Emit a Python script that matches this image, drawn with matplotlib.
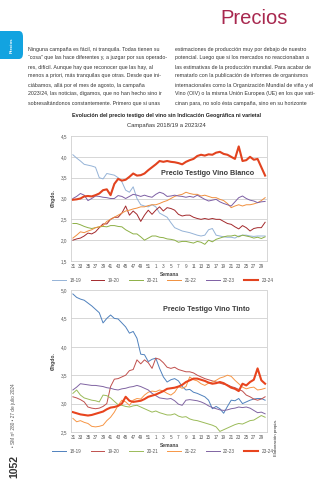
import matplotlib
matplotlib.use("Agg")
import matplotlib.pyplot as plt
from matplotlib.patches import FancyBboxPatch
from matplotlib.ticker import FuncFormatter

# semanas de campaña (31..52, 1..30)
weeks = list(range(31, 53)) + list(range(1, 31))
campaigns = ["18-19", "19-20", "20-21", "21-22", "22-23", "23-24"]

# Vino blanco (€/hgdo.)
blanco_1819 = [4.05, 3.97, 3.9, 3.82, 3.8, 3.78, 3.75, 3.5, 3.47, 3.6, 3.58, 3.56, 3.5, 3.4, 3.2, 3.15, 3.28,
               3.0, 2.85, 2.82, 2.8, 2.85, 2.8, 2.65, 2.6, 2.55, 2.42, 2.3, 2.26, 2.22, 2.2, 2.18, 2.15, 2.12,
               2.1, 2.12, 2.25, 2.28, 2.12, 2.1, 2.08, 2.07, 2.07, 2.05, 2.1, 2.12, 2.12, 2.1, 2.09, 2.1, 2.1, 2.1]
blanco_1920 = [2.0, 2.03, 2.05, 2.1, 2.17, 2.15, 2.2, 2.3, 2.39, 2.39, 2.5, 2.55, 2.55, 2.65, 2.82, 2.6, 2.7,
               2.62, 2.45, 2.6, 2.72, 2.62, 2.72, 2.8, 2.7, 2.78, 2.76, 2.72, 2.62, 2.58, 2.6, 2.6, 2.55, 2.52,
               2.5, 2.52, 2.5, 2.52, 2.5, 2.5, 2.45, 2.4, 2.38, 2.32, 2.27, 2.35, 2.3, 2.22, 2.28, 2.3, 2.3, 2.43]
blanco_2021 = [2.4, 2.4, 2.37, 2.33, 2.3, 2.28, 2.3, 2.32, 2.33, 2.32, 2.35, 2.35, 2.33, 2.32, 2.25, 2.2, 2.15,
               2.15, 2.08, 2.0, 2.05, 2.1, 2.1, 2.07, 2.06, 2.03, 2.02, 2.0, 1.95, 1.97, 1.97, 1.95, 1.93, 1.97,
               1.95, 1.9, 2.0, 1.96, 2.02, 2.05, 2.08, 2.1, 2.1, 2.12, 2.08, 2.12, 2.1, 2.08, 2.05, 2.07, 2.04, 2.08]
blanco_2122 = [2.05, 2.12, 2.2, 2.18, 2.22, 2.25, 2.3, 2.32, 2.35, 2.45, 2.5, 2.55, 2.6, 2.65, 2.7, 2.72, 2.75,
               2.77, 2.8, 2.8, 2.83, 2.85, 2.85, 2.88, 2.92, 2.95, 3.0, 3.05, 3.08, 3.1, 3.15, 3.12, 3.1, 3.1,
               3.06, 3.08, 3.05, 3.02, 3.02, 2.98, 2.95, 2.88, 2.78, 2.82, 2.85, 2.82, 2.85, 2.85, 2.87, 2.9, 2.95, 3.02]
blanco_2223 = [3.0, 3.05, 3.12, 3.08, 2.95, 3.0, 3.06, 3.05, 3.03, 3.02, 3.0, 3.0, 3.07, 3.05, 3.0, 3.05, 3.1,
               3.08, 3.05, 3.08, 3.05, 3.03, 3.1, 3.15, 3.12, 3.05, 3.06, 3.08, 3.06, 3.05, 3.03, 3.05, 3.03, 3.08,
               3.03, 2.98, 2.94, 2.96, 2.98, 2.92, 2.88, 2.85, 2.82, 2.92, 3.02, 3.06, 3.0, 2.96, 2.94, 2.9, 2.92, 2.93]
blanco_2324 = [2.97, 2.98, 3.0, 3.05, 3.06, 3.05, 3.08, 3.12, 3.2, 3.22, 3.08, 3.35, 3.47, 3.43, 3.45, 3.52, 3.6,
               3.55, 3.56, 3.6, 3.68, 3.75, 3.82, 3.9, 3.88, 3.9, 3.88, 3.87, 3.85, 3.82, 3.88, 3.92, 3.95, 4.02,
               4.05, 4.03, 4.06, 4.05, 4.1, 4.12, 4.07, 4.05, 4.0, 3.95, 4.25, 3.9, 3.92, 4.0, 3.93, 3.95, 3.75, 3.55]

# Vino tinto (€/hgdo.)
tinto_1819 = [4.93, 4.87, 4.84, 4.82, 4.77, 4.72, 4.66, 4.6, 4.42, 4.5, 4.56, 4.5, 4.49, 4.42, 4.35, 4.24, 4.27,
              4.15, 3.87, 3.86, 3.74, 3.78, 3.8, 3.62, 3.47, 3.38, 3.42, 3.44, 3.4, 3.3, 3.24, 3.25, 3.2, 3.18,
              3.15, 3.12, 3.06, 2.91, 2.95, 2.91, 2.83, 2.95, 3.06, 3.05, 3.09, 3.0, 3.03, 3.06, 3.08, 3.09, 3.09, 3.06]
tinto_1920 = [3.12, 3.1, 3.07, 3.03, 2.94, 2.92, 2.91, 2.92, 2.95, 3.0, 3.3, 3.43, 3.44, 3.47, 3.5, 3.58, 3.6,
              3.77, 3.7, 3.77, 3.72, 3.62, 3.8, 3.78, 3.72, 3.64, 3.62, 3.64, 3.6, 3.58, 3.56, 3.56, 3.54, 3.5,
              3.47, 3.44, 3.42, 3.4, 3.38, 3.36, 3.34, 3.33, 3.3, 3.28, 3.25, 3.22, 3.15, 3.12, 3.08, 3.06, 3.08, 3.12]
tinto_2021 = [3.18, 3.24, 3.15, 3.1, 3.08, 3.06, 3.05, 3.03, 3.15, 3.14, 3.1, 3.04, 2.98, 2.97, 2.95, 2.94, 2.96,
              2.97, 2.94, 2.91, 2.88, 2.85, 2.87, 2.84, 2.82, 2.8, 2.8, 2.82, 2.78, 2.76, 2.77, 2.73, 2.71, 2.7,
              2.68, 2.66, 2.64, 2.62, 2.59, 2.51, 2.54, 2.57, 2.6, 2.63, 2.65, 2.64, 2.67, 2.7, 2.71, 2.75, 2.79, 2.76]
tinto_2122 = [2.74, 2.68, 2.7, 2.67, 2.65, 2.6, 2.59, 2.6, 2.62, 2.7, 2.76, 2.85, 2.97, 3.06, 3.03, 2.97, 3.06,
              3.09, 3.08, 3.15, 3.2, 3.22, 3.21, 3.24, 3.22, 3.18, 3.15, 3.2, 3.3, 3.27, 3.3, 3.47, 3.42, 3.4,
              3.35, 3.32, 3.36, 3.38, 3.41, 3.45, 3.47, 3.5, 3.48, 3.41, 3.35, 3.29, 3.26, 3.28, 3.29, 3.24, 3.25, 3.27]
tinto_2223 = [3.24, 3.29, 3.35, 3.34, 3.33, 3.32, 3.32, 3.31, 3.3, 3.28, 3.27, 3.25, 3.24, 3.26, 3.27, 3.29, 3.3,
              3.32, 3.3, 3.27, 3.24, 3.18, 3.14, 3.1, 3.09, 3.08, 3.09, 3.05, 2.99, 2.97, 3.06, 3.07, 3.06, 3.05,
              3.03, 3.0, 2.96, 2.93, 2.91, 2.89, 2.88, 2.89, 2.91, 2.92, 2.94, 2.93, 2.94, 2.92, 2.88, 2.84, 2.85, 2.82]
tinto_2324 = [2.85, 2.83, 2.81, 2.8, 2.79, 2.8, 2.82, 2.84, 2.86, 2.9, 2.93, 2.94, 2.96, 3.0, 3.12, 3.05, 3.03,
              3.04, 3.05, 3.08, 3.12, 3.14, 3.16, 3.19, 3.22, 3.26, 3.27, 3.28, 3.3, 3.33, 3.38, 3.41, 3.44, 3.44,
              3.42, 3.4, 3.37, 3.35, 3.36, 3.38, 3.36, 3.32, 3.28, 3.26, 3.22, 3.35, 3.32, 3.38, 3.42, 3.62, 3.41, 3.35]

blanco = [blanco_1819, blanco_1920, blanco_2021, blanco_2122, blanco_2223, blanco_2324]
tinto = [tinto_1819, tinto_1920, tinto_2021, tinto_2122, tinto_2223, tinto_2324]

col_blanco = ["#95b3d7", "#a3292c", "#8db046", "#f0903f", "#7d5fa4", "#e2431f"]
col_tinto = ["#4f81bd", "#c0504d", "#9bbb59", "#f79646", "#8064a2", "#e8441e"]
lw = [0.7, 0.7, 0.7, 0.7, 0.7, 1.5]

W, H = 333, 480
fig = plt.figure(figsize=(3.33, 4.8), dpi=100)
plt.rcParams['font.family'] = ['Liberation Sans', 'DejaVu Sans']


def ft(x, y, s, **kw):
    fig.text(x / W, 1 - y / H, s, **kw)


# cabecera
tab = FancyBboxPatch((-6 / W, 1 - 59 / H), 29 / W, 28 / H, boxstyle="round,pad=0,rounding_size=0.012",
                     transform=fig.transFigure, facecolor="#12a3e0", edgecolor="none")
fig.patches.append(tab)
ft(12, 45, "Precios", color="white", fontsize=3.2, fontweight="bold", rotation=90, ha="center", va="center")
ft(288, 18, "Precios", color="#a8284f", fontsize=14.5, ha="right", va="center")

col1 = ["Ninguna campaña es fácil, ni tranquila. Todas tienen su",
        "“cosa” que las hace diferentes y, a juzgar por sus operado-",
        "res, difícil. Aunque hay que reconocer que las hay, al",
        "menos a priori, más tranquilas que otras. Desde que ini-",
        "ciábamos, allá por el mes de agosto, la campaña",
        "2023/24, las noticias, digamos, que no han hecho sino ir",
        "sobresaltándonos constantemente. Primero que si unas"]
col2 = ["estimaciones de producción muy por debajo de nuestro",
        "potencial. Luego que si los mercados no reaccionaban a",
        "las estimativas de la producción mundial. Para acabar de",
        "rematarlo con la publicación de informes de organismos",
        "internacionales como la Organización Mundial de viña y el",
        "Vino (OIV) o la misma Unión Europea (UE) en los que vati-",
        "cinan para, no solo ésta campaña, sino en su horizonte"]
for k, (a, b) in enumerate(zip(col1, col2)):
    y = 49 + k * 9
    ft(28, y, a, fontsize=3.75, color="#333333", va="center")
    ft(175, y, b, fontsize=3.75, color="#333333", va="center")

ft(166, 116, "Evolución del precio testigo del vino sin Indicación Geográfica ni varietal",
   fontsize=3.9, fontweight="bold", color="#222222", ha="center", va="center")
ft(166, 125, "Campañas 2018/19 a 2023/24", fontsize=4.2, color="#333333", ha="center", va="center")


def panel(ax, series, colors, ylim, yticks, label, lab_xy, leg_y):
    for s, c, w, name in zip(series, colors, lw, campaigns):
        ax.plot(range(len(s)), s, color=c, lw=w, label=name)
    ax.set_xlim(-0.5, 51.5)
    ax.set_ylim(*ylim)
    ax.set_yticks(yticks)
    ax.yaxis.set_major_formatter(FuncFormatter(lambda v, p: f"{v:.1f}".replace(".", ",")))
    ax.set_xticks(range(0, 52, 2))
    ax.set_xticklabels([str(w) for w in weeks[::2]])
    ax.grid(axis="y", color="#d0d0d0", lw=0.6)
    ax.set_axisbelow(True)
    ax.spines["top"].set_visible(False)
    for sp in ["left", "right", "bottom"]:
        ax.spines[sp].set_color("#d0d0d0")
        ax.spines[sp].set_linewidth(0.6)
    ax.tick_params(length=0, labelsize=3.3, labelcolor="#555555", pad=2.5)
    ax.set_xlabel("Semana", fontsize=3.6, fontweight="bold", color="#444444", labelpad=1.5)
    ax.set_ylabel("€/hgdo.", fontsize=3.6, fontweight="bold", color="#444444", labelpad=4)
    ax.text(lab_xy[0], lab_xy[1], label, transform=ax.transAxes, fontsize=5.2, fontweight="bold",
            color="#3c3c3c", va="center")
    ax.legend(loc="upper center", bbox_to_anchor=(0.47, leg_y), ncol=6, frameon=False, fontsize=3.3,
              handlelength=3.0, columnspacing=2.0, handletextpad=0.8, labelcolor="#555555")


ax1 = fig.add_axes([71 / W, 1 - 261 / H, 196 / W, 125 / H])
panel(ax1, blanco, col_blanco, (1.5, 4.5), [1.5, 2.0, 2.5, 3.0, 3.5, 4.0, 4.5],
      "Precio Testigo Vino Blanco", (0.46, 0.7), -0.1)

ax2 = fig.add_axes([71 / W, 1 - 432 / H, 196 / W, 142 / H])
panel(ax2, tinto, col_tinto, (2.5, 5.0), [2.5, 3.0, 3.5, 4.0, 4.5, 5.0],
      "Precio Testigo Vino Tinto", (0.47, 0.865), -0.088)

# pie
ft(14, 466, "1052", fontsize=7.5, fontweight="bold", color="#333333", rotation=90, ha="center", va="center")
ft(14, 415, "• SM nº 280 • 27 de julio 2024", fontsize=3.4, color="#555555", rotation=90, ha="center", va="center")
ft(276, 437, "Elaboración propia.", fontsize=3.2, color="#333333", rotation=90, ha="center", va="center")

fig.savefig("out.png", dpi=100, facecolor="white")
